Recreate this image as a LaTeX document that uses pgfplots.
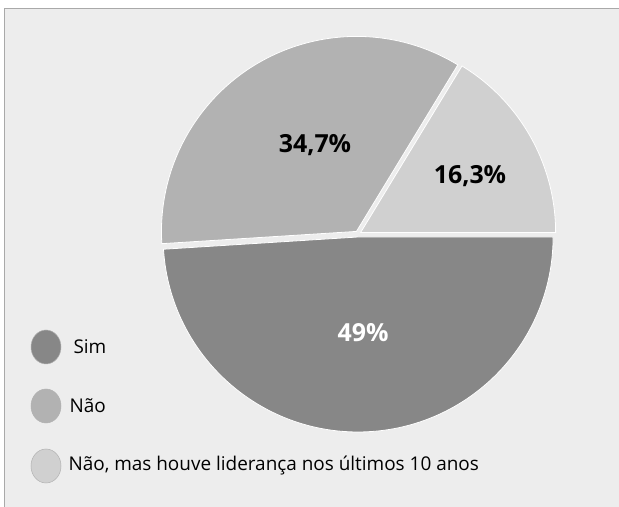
\documentclass[border=0pt]{standalone}
\usepackage{pgfplots}
\pgfplotsset{compat=1.18}
\usepackage{pgfplotstable}
\usepackage{fontspec}
\setmainfont{Open Sans}

\definecolor{bgc}{HTML}{EDEDED}
\definecolor{framec}{HTML}{A9A9A9}
\definecolor{sim}{HTML}{878787}
\definecolor{nao}{HTML}{B2B2B2}
\definecolor{outro}{HTML}{D0D0D0}

% fatias, no sentido anti-horario a partir de 0 graus
\pgfplotstableread{
value
16.3
34.7
49
}\piedata

\begin{document}
\begin{tikzpicture}
  \pgfplotstablegetelem{0}{value}\of\piedata \let\vA\pgfplotsretval
  \pgfplotstablegetelem{1}{value}\of\piedata \let\vB\pgfplotsretval
  \pgfplotstablegetelem{2}{value}\of\piedata \let\vC\pgfplotsretval
  \pgfmathsetmacro\aA{3.6*\vA}
  \pgfmathsetmacro\aB{\aA+3.6*\vB}
  \pgfmathsetmacro\aC{\aB+3.6*\vC}
  \begin{axis}[
    width=619bp, height=507bp, scale only axis,
    xmin=0, xmax=619, ymin=0, ymax=507,
    hide axis, clip=true,
  ]
  % fundo e moldura (so topo e esquerda)
  \fill[white] (axis cs:0,0) rectangle (axis cs:619,507);
  \fill[bgc] (axis cs:4.5,0) rectangle (axis cs:625,498.5);
  \draw[framec, line width=1bp] (axis cs:4.5,-5) -- (axis cs:4.5,498.5) -- (axis cs:625,498.5);

  % fatias (levemente destacadas)
  \fill[outro, draw=white, line width=0.8bp] (axis cs:358,273) ++({(0+\aA)/2}:3bp) -- ++(0:195bp)
    arc[start angle=0, end angle=\aA, radius=195bp] -- cycle;
  \fill[nao, draw=white, line width=0.8bp] (axis cs:358,273) ++({(\aA+\aB)/2}:3bp) -- ++(\aA:195bp)
    arc[start angle=\aA, end angle=\aB, radius=195bp] -- cycle;
  \fill[sim, draw=white, line width=0.8bp] (axis cs:358,273) ++({(\aB+\aC)/2}:3bp) -- ++(\aB:195bp)
    arc[start angle=\aB, end angle=\aC, radius=195bp] -- cycle;

  % rotulos
  \node[font=\bfseries\fontsize{25}{29}\selectfont] at (axis cs:315,362) {34,7\%};
  \node[font=\bfseries\fontsize{25}{29}\selectfont] at (axis cs:470,331) {16,3\%};
  \node[font=\bfseries\fontsize{25}{29}\selectfont, text=white] at (axis cs:363,174) {49\%};

  % legenda
  \fill[sim, draw=black!30, line width=0.5bp] (axis cs:46,160) ellipse[x radius=15bp, y radius=17bp];
  \fill[nao, draw=black!30, line width=0.5bp] (axis cs:46,101) ellipse[x radius=15bp, y radius=17bp];
  \fill[outro, draw=black!30, line width=0.5bp] (axis cs:46,41) ellipse[x radius=15bp, y radius=17bp];
  \node[anchor=west, font=\fontsize{19}{23}\selectfont] at (axis cs:70,160) {Sim};
  \node[anchor=west, font=\fontsize{19}{23}\selectfont] at (axis cs:66,101) {Não};
  \node[anchor=west, font=\fontsize{19}{23}\selectfont] at (axis cs:65,41) {Não, mas houve liderança nos últimos 10 anos};
  \end{axis}
  \pgfresetboundingbox
  \path[use as bounding box] (current axis.south west) rectangle (current axis.north east);
\end{tikzpicture}
\end{document}
